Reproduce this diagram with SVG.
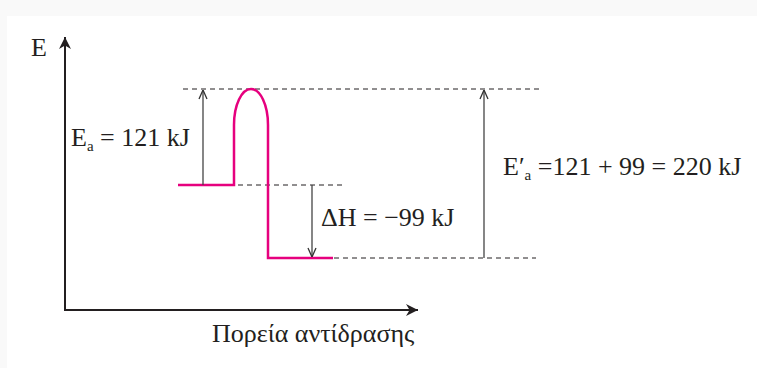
<svg xmlns="http://www.w3.org/2000/svg" width="757" height="368" viewBox="0 0 757 368">
<defs>
<style>
.t{font-family:"Liberation Serif","Times New Roman",serif;fill:#231f20;font-size:26px}
.sub{font-size:15px}
.axis{stroke:#231f20;stroke-width:2;fill:none}
.dash{stroke:#231f20;stroke-width:1;stroke-dasharray:5,4;fill:none}
.arr{stroke:#444;stroke-width:1.3;fill:none}
.curve{stroke:#e6007e;stroke-width:2.5;fill:none}
</style>
<marker id="ah" viewBox="0 0 10 10" refX="10" refY="5" markerWidth="12" markerHeight="12" markerUnits="userSpaceOnUse" orient="auto">
<path d="M0,0 L10,5 L0,10 L3,5 Z" fill="#231f20"/>
</marker>
<marker id="oa" viewBox="0 0 10 10" refX="10" refY="5" markerWidth="10" markerHeight="10" markerUnits="userSpaceOnUse" orient="auto">
<path d="M1,1 L10,5 L1,9" fill="none" stroke="#333" stroke-width="1.3"/>
</marker>
</defs>
<rect x="0" y="0" width="757" height="368" fill="#ffffff"/>
<rect x="0" y="0" width="757" height="16" fill="#f9f9f9"/>
<rect x="0" y="0" width="7" height="368" fill="#f9f9f9"/>
<g id="axes">
<line class="axis" x1="65" y1="311" x2="65" y2="37" marker-end="url(#ah)"/>
<line class="axis" x1="64" y1="310" x2="418" y2="310" marker-end="url(#ah)"/>
<text class="t" x="31" y="56">E</text>
<text class="t" x="212" y="342">Πορεία αντίδρασης</text>
</g>
<g id="guides">
<line class="dash" x1="183" y1="89" x2="540" y2="89"/>
<line class="dash" x1="238" y1="185" x2="345" y2="185"/>
<line class="dash" x1="334" y1="258" x2="536" y2="258"/>
</g>
<g id="profile">
<path class="curve" d="M178,185 H234 V125 A17,36 0 0 1 268,125 V258 H333"/>
</g>
<g id="connectors">
<line class="arr" x1="203" y1="185" x2="203" y2="90" marker-end="url(#oa)"/>
<line class="arr" x1="312" y1="185" x2="312" y2="257" marker-end="url(#oa)"/>
<line class="arr" x1="484" y1="258" x2="484" y2="90" marker-end="url(#oa)"/>
</g>
<g id="label-ea">
<text class="t" x="71" y="146">E<tspan class="sub" dy="5">a</tspan><tspan dy="-5"> = 121 kJ</tspan></text>
</g>
<g id="label-dh">
<text class="t" x="321" y="226">ΔH = −99 kJ</text>
</g>
<g id="label-ea2">
<text class="t" x="503" y="175">E′<tspan class="sub" dy="5">a</tspan><tspan dy="-5"> =121 + 99 = 220 kJ</tspan></text>
</g>
</svg>
